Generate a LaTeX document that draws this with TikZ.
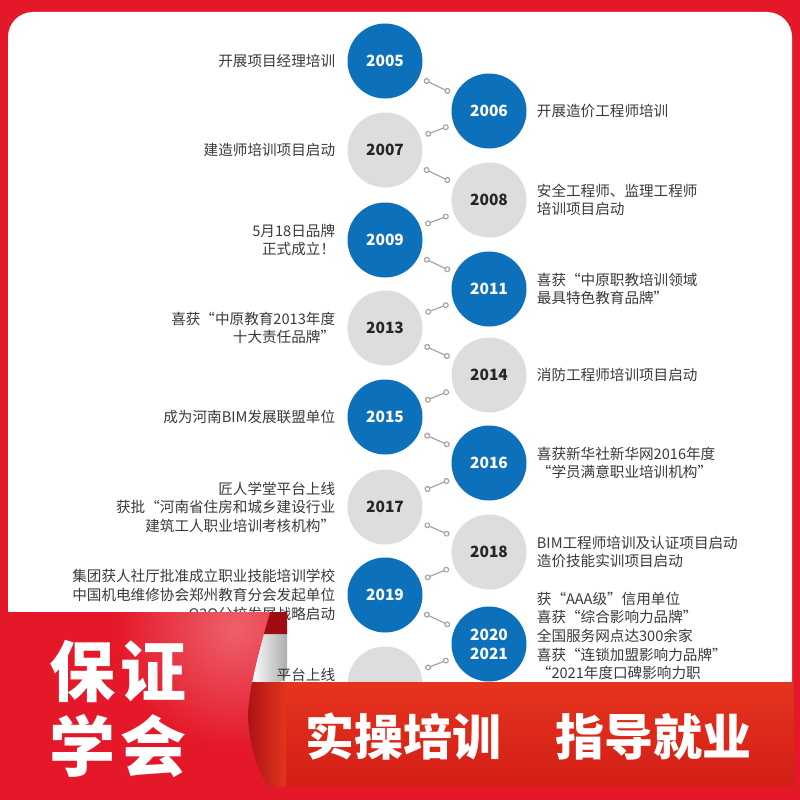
\documentclass[tikz,border=0pt]{standalone}
\usepackage{fontspec}
\setmainfont{Noto Sans CJK SC}
\usetikzlibrary{positioning,arrows.meta}

\definecolor{bgred}{RGB}{228,24,40}
\definecolor{yearblue}{RGB}{12,112,186}
\definecolor{yeargray}{RGB}{221,221,221}
\definecolor{notegray}{RGB}{58,58,58}
\definecolor{linkgray}{RGB}{165,165,165}
\definecolor{bandtop}{RGB}{229,52,30}
\definecolor{bandbot}{RGB}{210,30,22}
\definecolor{ribpink}{RGB}{238,96,108}
\definecolor{folddark}{RGB}{160,12,20}

\begin{document}
\begin{tikzpicture}[x=1pt, y=-1pt,
                    every edge/.style={draw=linkgray, line width=1.2pt, shorten <=5.5pt, shorten >=5.5pt},
                    year/.style={circle, minimum size=75pt, inner sep=0pt, align=center,
                                 font=\fontsize{15.5}{19}\selectfont\bfseries},
                    blueyear/.style={year, fill=yearblue, text=white},
                    grayyear/.style={year, fill=yeargray, text=black!85},
                    note/.style={inner sep=0pt, text=notegray, font=\fontsize{14.6}{18.6}\selectfont},
                    leftnote/.style={note, align=right, left=12pt of #1},
                    rightnote/.style={note, align=left, right=10pt of #1},
                    bigword/.style={text=white, inner sep=0pt, font=\fontsize{#1}{#1}\selectfont\bfseries},
                    tip/.tip={Circle[length=6pt, fill=white]}]
\useasboundingbox (0,0) rectangle (800,800);

% background and panel
\fill[bgred] (0,0) rectangle (800,800);
\fill[white, rounded corners=25pt] (8,12) rectangle (792,720);
\shade[left color=white, right color=black!32]
  (258,634) -- (287,634) -- (287,668) .. controls (287,680) and (282,683) .. (272,683) -- (250,683) -- cycle;

% years
\node[blueyear] (c2005) at (385,61)  {2005};
\node[blueyear] (c2006) at (489,111) {2006};
\node[grayyear] (c2007) at (385,150) {2007};
\node[grayyear] (c2008) at (489,200) {2008};
\node[blueyear] (c2009) at (385,240) {2009};
\node[blueyear] (c2011) at (489,289) {2011};
\node[grayyear] (c2013) at (385,328) {2013};
\node[grayyear] (c2014) at (489,375) {2014};
\node[blueyear] (c2015) at (385,417) {2015};
\node[blueyear] (c2016) at (489,463) {2016};
\node[grayyear] (c2017) at (385,507) {2017};
\node[grayyear] (c2018) at (489,552) {2018};
\node[blueyear] (c2019) at (385,595) {2019};
\node[blueyear] (c2020) at (489,644) {2020\\2021};
\node[grayyear] (c2022) at (385,684) {};

\path[tip-tip]
(c2005) edge (c2006) (c2006) edge (c2007) (c2007) edge (c2008)
(c2008) edge (c2009) (c2009) edge (c2011) (c2011) edge (c2013)
(c2013) edge (c2014) (c2014) edge (c2015) (c2015) edge (c2016)
(c2016) edge (c2017) (c2017) edge (c2018) (c2018) edge (c2019)
(c2019) edge (c2020) (c2020) edge (c2022);

% notes
\node[leftnote=c2005] (n2005) {开展项目经理培训};
\node[rightnote=c2006] (n2006) {开展造价工程师培训};
\node[leftnote=c2007] (n2007) {建造师培训项目启动};
\node[rightnote=c2008] (n2008) {安全工程师、监理工程师\\培训项目启动};
\node[leftnote=c2009] (n2009) {5月18日品牌\\正式成立！};
\node[rightnote=c2011] (n2011) {喜获“中原职教培训领域\\最具特色教育品牌”};
\node[leftnote=c2013] (n2013) {喜获“中原教育2013年度\\十大责任品牌”};
\node[rightnote=c2014] (n2014) {消防工程师培训项目启动};
\node[leftnote=c2015] (n2015) {成为河南BIM发展联盟单位};
\node[rightnote=c2016] (n2016) {喜获新华社新华网2016年度\\“学员满意职业培训机构”};
\node[leftnote=c2017] (n2017) {匠人学堂平台上线\\获批“河南省住房和城乡建设行业\\建筑工人职业培训考核机构”};
\node[rightnote=c2018] (n2018) {BIM工程师培训及认证项目启动\\造价技能实训项目启动};
\node[leftnote=c2019] (n2019) {集团获人社厅批准成立职业技能培训学校\\中国机电维修协会郑州教育分会发起单位\\O2O分校发展战略启动};
\node[rightnote=c2020, yshift=8pt] (n2020) {获“AAA级”信用单位\\喜获“综合影响力品牌”\\全国服务网点达300余家\\喜获“连锁加盟影响力品牌”\\“2021年度口碑影响力职};
\node[leftnote=c2022, yshift=9pt] (n2022) {平台上线};

% banner
\shade[top color=bandtop, bottom color=bandbot] (245,682) rectangle (794,786);
\shade[left color=folddark, right color=bandtop] (240,682) rectangle (286,786);
\fill[folddark] (268,612) -- (287,612) -- (287,634) -- (262,634) -- cycle;
\begin{scope}
\clip (0,612) -- (270,612) .. controls (262,640) and (250,680) .. (248,712)
      .. controls (247,745) and (262,785) .. (278,800) -- (0,800) -- cycle;
\fill[bgred] (0,600) rectangle (300,800);
\shade[inner color=ribpink, outer color=bgred] (235,628) circle (120);
\end{scope}

\node[bigword=66] (w1) at (118,671) {保\hspace{5pt}证};
\node[bigword=66] (w2) at (118,746) {学\hspace{5pt}会};
\node[bigword=49] (w3) at (403,737) {实操培训};
\node[bigword=49] (w4) at (653,737) {指导就业};
\end{tikzpicture}
\end{document}
